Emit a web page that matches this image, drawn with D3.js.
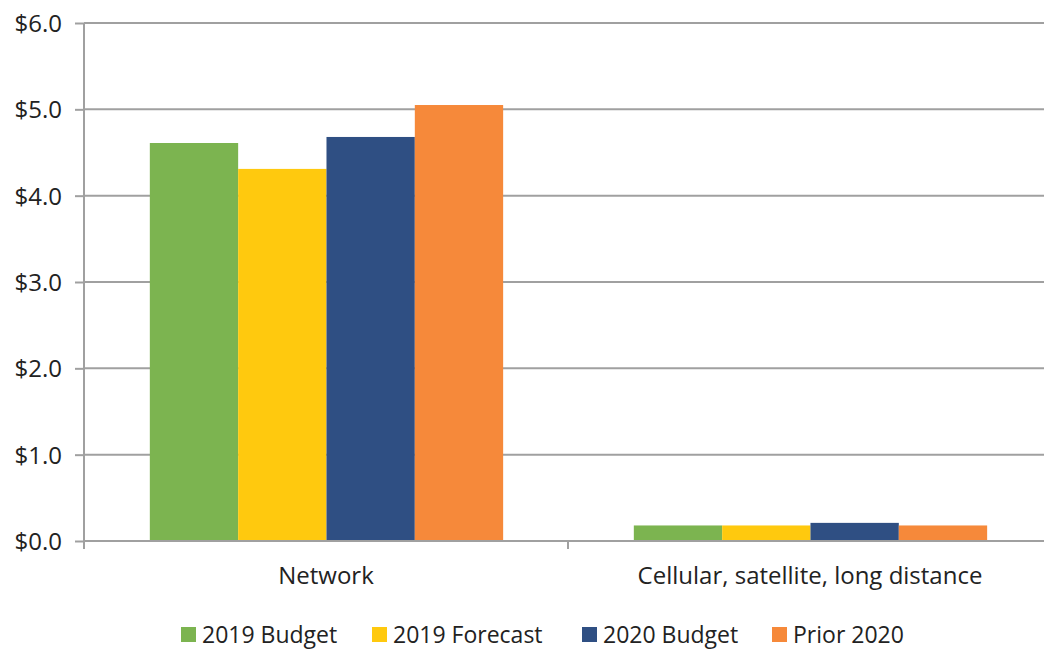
<html>
<head>
<script src="https://d3js.org/d3.v7.min.js"></script>
<style>
  body { margin: 0; background: #fff; }
  text { font-family: "Open Sans", Lato, sans-serif; fill: #222; }
  .grid line { stroke: #a0a0a0; stroke-width: 2px; }
</style>
</head>
<body>
<svg id="chart" width="1044" height="650"></svg>
<script>
const categories = ["Network", "Cellular, satellite, long distance"];
const seriesNames = ["2019 Budget", "2019 Forecast", "2020 Budget", "Prior 2020"];
const seriesColors = ["#7cb450", "#ffc90e", "#2f4f83", "#f6893a"];
const budget2019 = [4.61, 0.18];
const forecast2019 = [4.31, 0.18];
const budget2020 = [4.68, 0.21];
const prior2020 = [5.05, 0.18];
const yTicks = [0, 1, 2, 3, 4, 5, 6];

const seriesValues = [budget2019, forecast2019, budget2020, prior2020];

const svg = d3.select("#chart");
const margin = { top: 23, right: -8, bottom: 109, left: 84 };
const width = 1044 - margin.left - margin.right;
const height = 650 - margin.top - margin.bottom;

const g = svg.append("g")
    .attr("transform", "translate(" + margin.left + "," + margin.top + ")");

const y = d3.scaleLinear().domain([0, 6]).range([height, 0]);
const x0 = d3.scaleBand().domain(categories).range([0, width]).padding(0);
const x1 = d3.scaleBand().domain(seriesNames)
    .range([x0.bandwidth() * 0.136, x0.bandwidth() * 0.866]).padding(0);

// gridlines
g.append("g").attr("class", "grid")
    .selectAll("line").data(yTicks.filter(d => d > 0)).join("line")
    .attr("x1", 0).attr("x2", width)
    .attr("y1", d => y(d)).attr("y2", d => y(d));

// bars
const groups = g.selectAll("g.cat").data(categories).join("g")
    .attr("class", "cat")
    .attr("transform", d => "translate(" + x0(d) + ",0)");

groups.selectAll("rect")
    .data((c, ci) => seriesNames.map((s, si) => ({ s: s, v: seriesValues[si][ci], color: seriesColors[si] })))
    .join("rect")
    .attr("x", d => x1(d.s))
    .attr("width", x1.bandwidth())
    .attr("y", d => y(d.v))
    .attr("height", d => height - y(d.v))
    .attr("fill", d => d.color);

// y axis
const yAxis = d3.axisLeft(y).tickValues(yTicks).tickSize(9).tickPadding(13)
    .tickFormat(d => "$" + d3.format(".1f")(d));
const ya = g.append("g").call(yAxis);
ya.select(".domain").attr("stroke", "#a0a0a0").attr("stroke-width", 2).attr("d", "M0," + (height + 8) + "V0");
ya.selectAll(".tick line").attr("stroke", "#a0a0a0").attr("stroke-width", 2);
ya.selectAll("text").style("font-size", "24px").style("fill", "#222").attr("dy", "0.36em");

// x axis
g.append("line")
    .attr("x1", 0).attr("x2", width).attr("y1", height).attr("y2", height)
    .attr("stroke", "#a0a0a0").attr("stroke-width", 2);
g.selectAll("line.cattick").data(categories.slice(1)).join("line")
    .attr("class", "cattick")
    .attr("x1", d => x0(d)).attr("x2", d => x0(d))
    .attr("y1", height).attr("y2", height + 8)
    .attr("stroke", "#a0a0a0").attr("stroke-width", 2);
g.selectAll("text.catlabel").data(categories).join("text")
    .attr("class", "catlabel")
    .attr("x", d => x0(d) + x0.bandwidth() / 2)
    .attr("y", height + 43)
    .attr("text-anchor", "middle")
    .style("font-size", "24px")
    .text(d => d);

// legend
const legendX = [181, 372, 582, 772];
const legend = svg.append("g").selectAll("g").data(seriesNames).join("g")
    .attr("transform", (d, i) => "translate(" + legendX[i] + ",627)");
legend.append("rect").attr("width", 15).attr("height", 15)
    .attr("fill", (d, i) => seriesColors[i]);
legend.append("text").attr("x", 21).attr("y", 16)
    .style("font-size", "23px").text(d => d);
</script>
</body>
</html>
